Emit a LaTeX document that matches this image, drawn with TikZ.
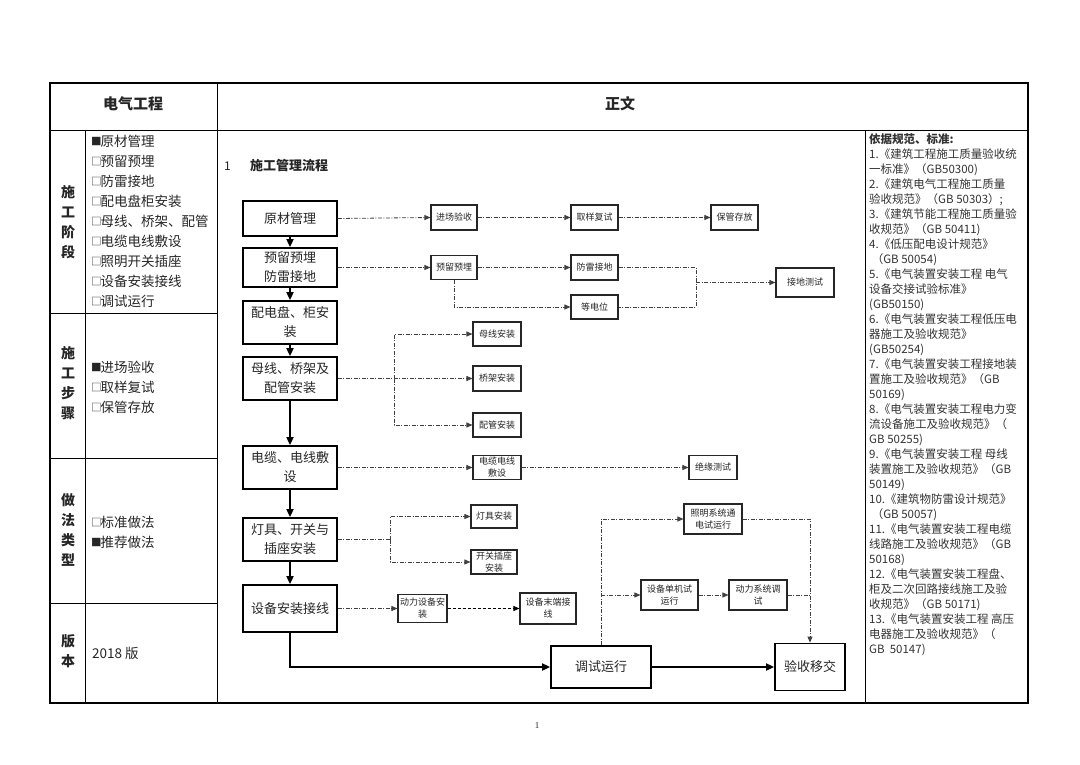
\documentclass[tikz,border=0pt]{standalone}
\usepackage{fontspec}
\setmainfont{Noto Sans CJK SC}
\newfontfamily\pgnum{Liberation Serif}
\usetikzlibrary{arrows.meta}
\newcommand\bon{\raisebox{0.5pt}{\fontsize{10.5}{10.5}\selectfont ■}\hspace{-1pt}}
\newcommand\boff{\raisebox{0.5pt}{\fontsize{10.5}{10.5}\selectfont □}\hspace{-1pt}}
\begin{document}
\begin{tikzpicture}[x=1pt,y=-1pt,
  mainbox/.style={draw=black, line width=1.8pt, minimum width=94pt, align=center, inner sep=0pt, text=black!85, font=\fontsize{13}{19}\selectfont},
  smallbox/.style={draw=black!85, line width=1.1pt, align=center, inner sep=0pt, text=black!85, font=\fontsize{9}{12}\selectfont},
  dl/.style={draw=black!75, line width=0.8pt, dash pattern=on 4pt off 1.5pt on 1pt off 1.5pt},
  da/.style={dl, -{Triangle[length=6pt,width=5pt]}},
  dk/.style={draw=black, line width=1pt, dash pattern=on 3pt off 2pt, -{Triangle[length=6pt,width=5pt]}},
  sa/.style={draw=black, line width=1.8pt, -{Triangle[length=8pt,width=7pt]}},
  item/.style={anchor=west, inner sep=0pt, text=black!85, font=\fontsize{13.5}{13.5}\selectfont},
  vlab/.style={align=center, inner sep=0pt, text=black!85, font=\bfseries\fontsize{14}{20}\selectfont},
]
\useasboundingbox (0,0) rectangle (1080,764);
\fill[white] (0,0) rectangle (1080,764);

% ---------- table frame ----------
\draw[line width=1.8pt] (50,83) rectangle (1028,703);
\draw[line width=1pt] (50,130) -- (1028,130);
\draw[line width=1pt] (217,83) -- (217,703);
\draw[line width=1pt] (865,130) -- (865,703);
\draw[line width=1pt] (85,130) -- (85,703);
\draw[line width=1pt] (50,313) -- (217,313);
\draw[line width=1pt] (50,458) -- (217,458);
\draw[line width=1pt] (50,603) -- (217,603);

% ---------- headers ----------
\node[text=black!85, font=\bfseries\fontsize{15}{15}\selectfont] (h1) at (133,104) {电气工程};
\node[text=black!85, font=\bfseries\fontsize{15}{15}\selectfont] (h2) at (620,104) {正文};

% ---------- left column ----------
\node[vlab] (v1) at (68,222) {施\\工\\阶\\段};
\node[vlab] (v2) at (68,383) {施\\工\\步\\骤};
\node[vlab] (v3) at (68,530) {做\\法\\类\\型};
\node[vlab] (v4) at (68,651) {版\\本};

\node[item] (a0) at (91,141) {\bon 原材管理};
\node[item] (a1) at (91,161) {\boff 预留预埋};
\node[item] (a2) at (91,181) {\boff 防雷接地};
\node[item] (a3) at (91,201) {\boff 配电盘柜安装};
\node[item] (a4) at (91,221) {\boff 母线、桥架、配管};
\node[item] (a5) at (91,241) {\boff 电缆电线敷设};
\node[item] (a6) at (91,261) {\boff 照明开关插座};
\node[item] (a7) at (91,281) {\boff 设备安装接线};
\node[item] (a8) at (91,301) {\boff 调试运行};

\node[item] (b0) at (91,367) {\bon 进场验收};
\node[item] (b1t) at (91,387) {\boff 取样复试};
\node[item] (b2t) at (91,407) {\boff 保管存放};

\node[item] (c0) at (91,522) {\boff 标准做法};
\node[item] (c1) at (91,542) {\bon 推荐做法};

\node[item] (d0) at (92,653) {2018 版};

% ---------- right column ----------
\node[anchor=north west, align=left, inner sep=0pt, text=black!80, font=\fontsize{11.5}{15}\selectfont] (refs) at (869,133) {%
\textbf{依据规范、标准:}\\
1.《建筑工程施工质量验收统\\
一标准》（GB50300)\\
2.《建筑电气工程施工质量\\
验收规范》（GB 50303）;\\
3.《建筑节能工程施工质量验\\
收规范》（GB 50411)\\
4.《低压配电设计规范》\\
\ （GB 50054)\\
5.《电气装置安装工程 电气\\
设备交接试验标准》\\
(GB50150)\\
6.《电气装置安装工程低压电\\
器施工及验收规范》\\
(GB50254)\\
7.《电气装置安装工程接地装\\
置施工及验收规范》（GB\\
50169)\\
8.《电气装置安装工程电力变\\
流设备施工及验收规范》（\\
GB 50255)\\
9.《电气装置安装工程 母线\\
装置施工及验收规范》（GB\\
50149)\\
10.《建筑物防雷设计规范》\\
\ （GB 50057)\\
11.《电气装置安装工程电缆\\
线路施工及验收规范》（GB\\
50168)\\
12.《电气装置安装工程盘、\\
柜及二次回路接线施工及验\\
收规范》（GB 50171)\\
13.《电气装置安装工程 高压\\
电器施工及验收规范》（\\
GB\ \ 50147)};

% ---------- title ----------
\node[anchor=west, inner sep=0pt, text=black!85, font=\fontsize{12}{12}\selectfont] (t0) at (224,166) {1};
\node[anchor=west, inner sep=0pt, text=black!85, font=\bfseries\fontsize{13}{13}\selectfont] (t1) at (250,166) {施工管理流程};

% ---------- main boxes ----------
\node[mainbox, minimum height=35pt] (m1) at (290,218.5) {原材管理};
\node[mainbox, minimum height=39pt] (m2) at (290,267.5) {预留预埋\\防雷接地};
\node[mainbox, minimum height=43pt] (m3) at (290,322.5) {配电盘、柜安\\装};
\node[mainbox, minimum height=43pt] (m4) at (290,378.5) {母线、桥架及\\配管安装};
\node[mainbox, minimum height=43pt] (m5) at (290,467.5) {电缆、电线敷\\设};
\node[mainbox, minimum height=43pt] (m6) at (290,539.5) {灯具、开关与\\插座安装};
\node[mainbox, minimum height=47pt] (m7) at (290,608.5) {设备安装接线};
\node[mainbox, minimum width=100pt, minimum height=42pt] (m8) at (601,667) {调试运行};
\node[mainbox, minimum width=70pt, minimum height=47pt] (m9) at (810,667) {验收移交};

% ---------- small boxes ----------
\node[smallbox, minimum width=46pt, minimum height=25pt] (s1) at (454,217.5) {进场验收};
\node[smallbox, minimum width=47pt, minimum height=25pt] (s2) at (594.5,217.5) {取样复试};
\node[smallbox, minimum width=47pt, minimum height=25pt] (s3) at (734.5,217.5) {保管存放};
\node[smallbox, minimum width=46pt, minimum height=24pt] (s4) at (454,267.5) {预留预埋};
\node[smallbox, minimum width=47pt, minimum height=25pt] (s5) at (594.5,267.5) {防雷接地};
\node[smallbox, minimum width=47pt, minimum height=24pt] (s6) at (594.5,307) {等电位};
\node[smallbox, minimum width=58pt, minimum height=29pt] (s7) at (805,282.5) {接地测试};
\node[smallbox, minimum width=48pt, minimum height=24pt] (s8) at (497,334) {母线安装};
\node[smallbox, minimum width=48pt, minimum height=25pt] (s9) at (497,378.5) {桥架安装};
\node[smallbox, minimum width=48pt, minimum height=24pt] (s10) at (497,425) {配管安装};
\node[smallbox, minimum width=48pt, minimum height=24pt] (s11) at (497,467.5) {电缆电线\\敷设};
\node[smallbox, minimum width=48pt, minimum height=24pt] (s12) at (713,467.5) {绝缘测试};
\node[smallbox, minimum width=46pt, minimum height=23pt] (s13) at (494,516.5) {灯具安装};
\node[smallbox, minimum width=46pt, minimum height=24pt] (s14) at (494,562) {开关插座\\安装};
\node[smallbox, minimum width=49pt, minimum height=28pt] (s15) at (422.5,608.5) {动力设备安\\装};
\node[smallbox, minimum width=56pt, minimum height=31pt] (s16) at (548,608.5) {设备末端接\\线};
\node[smallbox, minimum width=58pt, minimum height=30pt] (s17) at (713,519) {照明系统通\\电试运行};
\node[smallbox, minimum width=57pt, minimum height=30pt] (s18) at (669.5,595) {设备单机试\\运行};
\node[smallbox, minimum width=58pt, minimum height=30pt] (s19) at (758,595) {动力系统调\\试};

% ---------- main solid arrows ----------
\draw[sa] (m1.south) -- (m2.north);
\draw[sa] (m2.south) -- (m3.north);
\draw[sa] (m3.south) -- (m4.north);
\draw[sa] (m4.south) -- (m5.north);
\draw[sa] (m5.south) -- (m6.north);
\draw[sa] (m6.south) -- (m7.north);
\draw[sa] (m7.south) |- (m8.west);
\draw[sa] (m8.east) -- (m9.west);

% ---------- dashed connectors ----------
\draw[da] (m1.east) -- (s1.west);
\draw[da] (s1.east) -- (s2.west);
\draw[da] (s2.east) -- (s3.west);

\draw[da] (m2.east) -- (s4.west);
\draw[da] (s4.east) -- (s5.west);
\draw[da] (s4.south) |- (s6.west);
\coordinate (j1) at (696,282.5);
\draw[dl] (s5.east) -| (j1) |- (s6.east);
\draw[da] (j1) -- (s7.west);

\coordinate (k1) at (394,378.5);
\draw[da] (m4.east) -- (s9.west);
\draw[da] (k1) |- (s8.west);
\draw[da] (k1) |- (s10.west);

\draw[da] (m5.east) -- (s11.west);
\draw[da] (s11.east) -- (s12.west);

\coordinate (k2) at (390,539.5);
\draw[dl] (m6.east) -- (k2);
\draw[da] (k2) |- (s13.west);
\draw[da] (k2) |- (s14.west);

\draw[da] (m7.east) -- (s15.west);
\draw[dk] (s15.east) -- (s16.west);

\draw[da] (m8.north) |- (s17.west);
\draw[da] (m8.north |- s18.west) -- (s18.west);
\draw[da] (s18.east) -- (s19.west);
\draw[da] (s17.east) -| (m9.north);
\draw[dl] (s19.east) -- (m9.north |- s19.east);

% ---------- page number ----------
\node[text=black!85, font=\pgnum\fontsize{9}{9}\selectfont] (pg) at (537,726) {1};
\end{tikzpicture}
\end{document}
